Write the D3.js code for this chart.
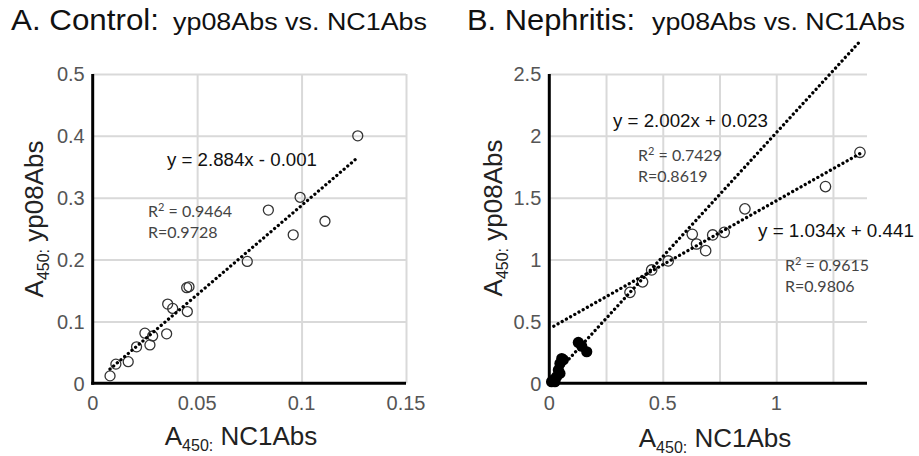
<!DOCTYPE html>
<html lang="en">
<head>
<meta charset="UTF-8">
<title>yp08Abs vs. NC1Abs</title>
<script src="https://d3js.org/d3.v7.min.js"></script>
<style>
  body { margin: 0; background: #fff; }
  svg { display: block; font-family: "Liberation Sans", Arial, sans-serif; }
  .grid line { stroke: #d9d9d9; stroke-width: 2; }
  .grid path { display: none; }
  .tick-lbl { font-family: "Liberation Sans Narrow", "Arial Narrow", "Liberation Sans", sans-serif; font-size: 20px; fill: #555; }
  .axis-line { stroke: #000; stroke-width: 3; }
  .trend { fill: none; stroke: #000; stroke-width: 3.3; stroke-linecap: round; stroke-dasharray: 0.01 4.8; }
  .open { fill: none; stroke: #333; stroke-width: 1.3; }
  .filled { fill: #000; }
  .eq { font-size: 18px; fill: #111; }
  .rr { font-family: Lato, "Open Sans", sans-serif; font-size: 16px; fill: #444; }
  .axt { font-size: 26px; fill: #222; }
</style>
</head>
<body>
<svg id="chart" width="919" height="456"></svg>
<script>
// ---- data: control panel (NC1Abs, yp08Abs) ----
const controlX = [0.0083, 0.0111, 0.017, 0.021, 0.025, 0.0274, 0.0287, 0.0354, 0.0359, 0.0383,
                  0.0453, 0.045, 0.0461, 0.074, 0.0841, 0.096, 0.0993, 0.1112, 0.1269];
const controlY = [0.012, 0.031, 0.035, 0.059, 0.081, 0.062, 0.0765, 0.080, 0.128, 0.121,
                  0.116, 0.1546, 0.156, 0.197, 0.280, 0.240, 0.3007, 0.262, 0.400];
const controlFit = [2.884, -0.001];

// ---- data: nephritis panel ----
const nephOpenX = [0.3555, 0.411, 0.451, 0.524, 0.630, 0.649, 0.689, 0.720, 0.771, 0.862, 1.217, 1.369];
const nephOpenY = [0.735, 0.82, 0.916, 0.989, 1.204, 1.126, 1.072, 1.199, 1.22, 1.41, 1.59, 1.867];
const nephFilledX = [0.010, 0.018, 0.025, 0.032, 0.040, 0.047, 0.047, 0.055, 0.062, 0.128, 0.143, 0.165];
const nephFilledY = [0.013, 0.027, 0.013, 0.053, 0.108, 0.08, 0.16, 0.20, 0.19, 0.33, 0.30, 0.255];
const nephFitAll = [2.002, 0.023];
const nephFitOpen = [1.034, 0.441];

const ticksA_x = [0, 0.05, 0.1, 0.15];
const ticksA_y = [0, 0.1, 0.2, 0.3, 0.4, 0.5];
const gridB_x = [0.25, 0.5, 0.75, 1, 1.25];
const ticksB_x = [0, 0.5, 1];
const ticksB_y = [0, 0.5, 1, 1.5, 2, 2.5];

const svg = d3.select("#chart");

// draws one panel: grid, axes, tick labels
function panel(x, y, xTicks, yTicks, xGrid) {
  const g = svg.append("g");
  const [x0, x1] = x.range(), [y0, y1] = y.range();
  g.append("g").attr("class", "grid")
    .attr("transform", `translate(${x0},0)`)
    .call(d3.axisLeft(y).tickValues(yTicks.slice(1)).tickSize(-(x1 - x0)).tickFormat(""));
  g.append("g").attr("class", "grid")
    .attr("transform", `translate(0,${y0})`)
    .call(d3.axisBottom(x).tickValues(xGrid.filter(d => d > 0)).tickSize(-(y0 - y1)).tickFormat(""));
  g.append("line").attr("class", "axis-line").attr("x1", x0).attr("x2", x0).attr("y1", y1).attr("y2", y0 + 1.5);
  g.append("line").attr("class", "axis-line").attr("x1", x0 - 1.5).attr("x2", x1).attr("y1", y0).attr("y2", y0);
  g.selectAll(".ylbl").data(yTicks).join("text").attr("class", "tick-lbl")
    .attr("x", x0 - 8).attr("y", d => y(d)).attr("dy", "0.36em").attr("text-anchor", "end")
    .text(d => d);
  g.selectAll(".xlbl").data(xTicks).join("text").attr("class", "tick-lbl")
    .attr("x", d => x(d)).attr("y", y0 + 27).attr("text-anchor", "middle")
    .text(d => d);
  return g;
}

function trend(g, x, y, fit, from, to) {
  const pts = [from, to].map(v => [x(v), y(fit[0] * v + fit[1])]);
  g.append("path").attr("class", "trend").attr("d", d3.line()(pts));
}

function axisTitle(xp, yp, rot, main) {
  const t = svg.append("text").attr("class", "axt").attr("text-anchor", "middle")
    .attr("transform", `translate(${xp},${yp}) rotate(${rot})`);
  t.append("tspan").text("A");
  t.append("tspan").attr("font-size", "16px").attr("dy", 6).text("450:");
  t.append("tspan").attr("dy", -6).text(" " + main);
}

// ---------- Panel A ----------
const xA = d3.scaleLinear([0, 0.15], [92.7, 406]);
const yA = d3.scaleLinear([0, 0.5], [383.3, 74]);
const gA = panel(xA, yA, ticksA_x, ticksA_y, ticksA_x);
gA.selectAll(".pt").data(controlX).join("circle").attr("class", "open")
  .attr("cx", d => xA(d)).attr("cy", (d, i) => yA(controlY[i])).attr("r", 5);
trend(gA, xA, yA, controlFit, d3.min(controlX), d3.max(controlX));

// ---------- Panel B ----------
const xB = d3.scaleLinear([0, 1.4], [549.3, 867]);
const yB = d3.scaleLinear([0, 2.5], [383.3, 74]);
const gB = panel(xB, yB, ticksB_x, ticksB_y, gridB_x);
gB.selectAll(".op").data(nephOpenX).join("circle").attr("class", "open")
  .attr("cx", d => xB(d)).attr("cy", (d, i) => yB(nephOpenY[i])).attr("r", 5.2);
gB.selectAll(".fp").data(nephFilledX).join("circle").attr("class", "filled")
  .attr("cx", d => xB(d)).attr("cy", (d, i) => yB(nephFilledY[i])).attr("r", 5.6);
trend(gB, xB, yB, nephFitAll, 0.03, d3.max(nephOpenX));
trend(gB, xB, yB, nephFitOpen, 0.02, d3.max(nephOpenX));

// ---------- titles ----------
svg.append("text").attr("x", 11).attr("y", 30).attr("font-size", 29).attr("fill", "#111")
  .attr("textLength", 148).attr("lengthAdjust", "spacingAndGlyphs").text("A. Control:");
svg.append("text").attr("x", 173).attr("y", 30).attr("font-size", 23).attr("fill", "#111")
  .attr("textLength", 254).attr("lengthAdjust", "spacingAndGlyphs").text("yp08Abs vs. NC1Abs");
svg.append("text").attr("x", 467).attr("y", 30).attr("font-size", 29).attr("fill", "#111")
  .attr("textLength", 168).attr("lengthAdjust", "spacingAndGlyphs").text("B. Nephritis:");
svg.append("text").attr("x", 652).attr("y", 30).attr("font-size", 23).attr("fill", "#111")
  .attr("textLength", 253).attr("lengthAdjust", "spacingAndGlyphs").text("yp08Abs vs. NC1Abs");

// ---------- axis titles ----------
axisTitle(241, 445, 0, "NC1Abs");
axisTitle(43, 219, -90, "yp08Abs");
axisTitle(715, 447, 0, "NC1Abs");
axisTitle(502, 218, -90, "yp08Abs");

// ---------- annotations ----------
function eq(x, y, len, s) {
  svg.append("text").attr("class", "eq").attr("x", x).attr("y", y)
    .attr("textLength", len).attr("lengthAdjust", "spacingAndGlyphs").text(s);
}
function rr(x, y, r2, r) {
  const t = svg.append("text").attr("class", "rr").attr("x", x).attr("y", y);
  t.append("tspan").text("R");
  t.append("tspan").attr("font-size", "11px").attr("dy", -6).text("2");
  t.append("tspan").attr("dy", 6).text(" = " + r2);
  svg.append("text").attr("class", "rr").attr("x", x).attr("y", y + 21).text("R=" + r);
}
eq(167, 166, 150, "y = 2.884x - 0.001");
rr(148, 217, "0.9464", "0.9728");
eq(613, 126.5, 155, "y = 2.002x + 0.023");
rr(638, 161, "0.7429", "0.8619");
eq(758, 237, 156, "y = 1.034x + 0.441");
rr(785, 271, "0.9615", "0.9806");
</script>
</body>
</html>
